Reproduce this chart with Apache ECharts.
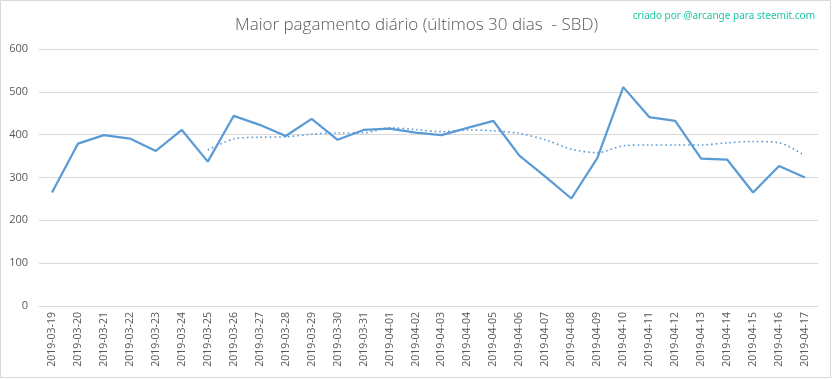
<!DOCTYPE html>
<html><head><meta charset="utf-8">
<script src="https://cdn.jsdelivr.net/npm/echarts@6/dist/echarts.min.js"></script>
<style>html,body{margin:0;padding:0;background:#fff}#c{width:833px;height:379px}</style>
</head><body><div id="c"></div>
<script>
const dates = ["2019-03-19","2019-03-20","2019-03-21","2019-03-22","2019-03-23","2019-03-24","2019-03-25","2019-03-26","2019-03-27","2019-03-28","2019-03-29","2019-03-30","2019-03-31","2019-04-01","2019-04-02","2019-04-03","2019-04-04","2019-04-05","2019-04-06","2019-04-07","2019-04-08","2019-04-09","2019-04-10","2019-04-11","2019-04-12","2019-04-13","2019-04-14","2019-04-15","2019-04-16","2019-04-17"];
const maxPayout = [265,379,399,391,362,411,337,444,423,397,437,388,411,414,405,399,416,432,351,302,251,345,511,441,432,344,342,265,327,300];
const movingAvg = [null,null,null,null,null,null,364,390,394,395,401,404,404,416,412,407,411,409,403,388,366,358,374,376,376,376,381,384,381,351];
const yTicks = [0,100,200,300,400,500,600];

const chart = echarts.init(document.getElementById('c'), null, {renderer:'canvas'});
const font = '"Open Sans", "Noto Sans", sans-serif';
chart.setOption({
  animation:false,
  backgroundColor:'#fff',
  title:{text:'Maior pagamento diário (últimos 30 dias  - SBD)', left:'center', top:12,
    textStyle:{fontFamily:font, fontWeight:300, fontSize:17, color:'#595959'}},
  graphic:[
    {type:'rect', shape:{x:0.5,y:0.5,width:830,height:377}, style:{fill:null, stroke:'#d9d9d9', lineWidth:1}, silent:true},
    {type:'text', right:18, top:11, style:{text:'criado por @arcange para steemit.com', fill:'#1fc8a0', font:'10px "Noto Sans", sans-serif'}}
  ],
  grid:{left:39, right:15, top:49, bottom:73, containLabel:false},
  xAxis:{type:'category', data:dates, boundaryGap:true,
    axisLine:{lineStyle:{color:'#d9d9d9'}}, axisTick:{show:false},
    axisLabel:{rotate:90, interval:0, fontSize:10.5, color:'#595959', fontFamily:font, margin:6}},
  yAxis:{type:'value', min:yTicks[0], max:yTicks[yTicks.length-1], interval:100,
    axisLine:{show:false}, axisTick:{show:false},
    splitLine:{lineStyle:{color:'#d9d9d9', width:1}},
    axisLabel:{fontSize:11, color:'#595959', fontFamily:font, margin:11}},
  series:[
    {type:'line', data:maxPayout, symbol:'none', lineStyle:{color:'#5b9bd5', width:2.25}, z:3},
    {type:'line', data:movingAvg, symbol:'none', smooth:0.3, connectNulls:false,
      lineStyle:{color:'#5b9bd5', width:1.6, type:[1.6,3]}, z:2}
  ]
});
</script></body></html>
